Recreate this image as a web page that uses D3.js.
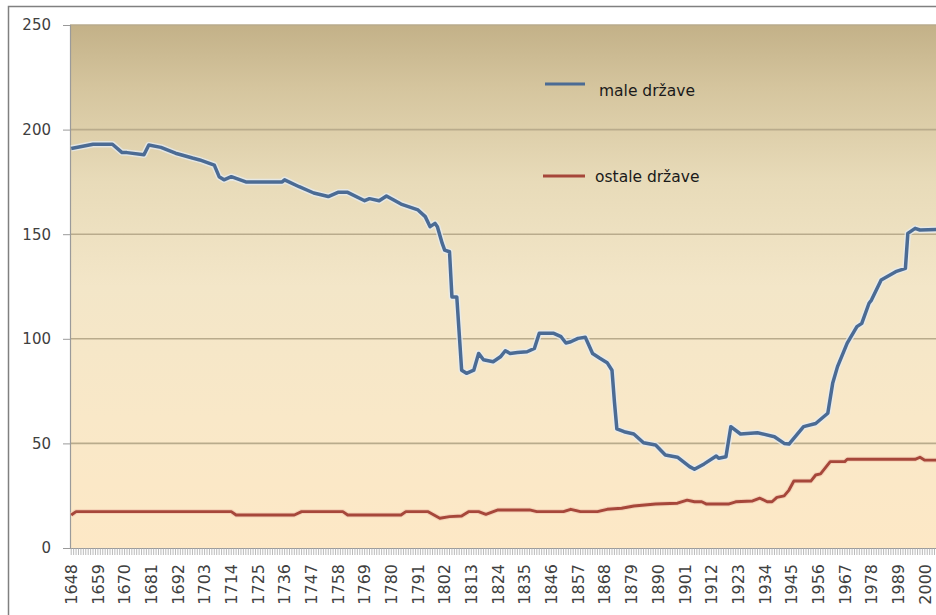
<!DOCTYPE html>
<html>
<head>
<meta charset="utf-8">
<script src="https://cdn.jsdelivr.net/npm/d3@7"></script>
<style>
  html, body { margin: 0; padding: 0; background: #ffffff; }
  svg { display: block; }
</style>
</head>
<body>
<svg id="chart" width="936" height="615"></svg>
<script>
// ---- data (values at change points) ----
const firstYear = 1648;
const lastYear = 2007;
const xLabelYears = [1648,1659,1670,1681,1692,1703,1714,1725,1736,1747,1758,1769,1780,1791,1802,1813,1824,1835,1846,1857,1868,1879,1890,1901,1912,1923,1934,1945,1956,1967,1978,1989,2000];
const yTicks = [0, 50, 100, 150, 200, 250];

const maleLabel = "male države";
const maleYears  = [1648,1657,1665,1669,1671,1678,1680,1685,1691,1698,1701,1707,1709,1711,1714,1720,1735,1736,1742,1748,1754,1758,1762,1769,1771,1775,1778,1784,1791,1794,1796,1798,1799,1801,1802,1804,1805,1807,1809,1811,1814,1816,1818,1822,1825,1827,1829,1832,1836,1839,1841,1847,1850,1852,1854,1857,1860,1863,1866,1869,1871,1872,1873,1876,1880,1884,1889,1893,1898,1903,1905,1909,1914,1915,1918,1920,1924,1931,1938,1942,1944,1950,1955,1960,1962,1964,1968,1972,1974,1977,1978,1982,1988,1992,1993,1996,1998,2007];
const maleValues = [191, 193, 193, 189, 189, 188, 192.6,191.5,188.7,186.4,185.5,183, 177.5,176, 177.5,175, 175, 176, 172.7,169.7,168, 170, 170, 166, 167, 166, 168.3,164.4,161.6,158.4,153.6,155.2,153.6,145.6,142.4,141.6,120, 120, 85, 83.5,85, 93, 90, 89, 91.4,94.3,93, 93.4,93.8,95.4,102.6,102.6,101, 98, 98.6,100.2,100.7,93, 90.7,88.6,85, 70, 57, 55.6,54.5,50.3,49.2,44.5,43.4,38.9,37.6,40.2,44, 42.9,43.6,58, 54.5,55.1,53.2,50, 49.7,58, 59.5,64.4,78.7,86.7,97.9,105.8,107.4,117, 118.5,128.1,132.1,133.7,150.4,152.8,152, 152.3];

const ostaleLabel = "ostale države";
const ostaleYears  = [1648,1650,1714,1716,1740,1743,1760,1762,1784,1786,1795,1800,1804,1809,1812,1816,1819,1824,1837,1840,1851,1854,1858,1865,1869,1875,1880,1889,1898,1902,1905,1908,1910,1919,1922,1929,1932,1935,1937,1939,1942,1944,1946,1953,1955,1957,1961,1967,1968,1996,1998,2000,2007];
const ostaleValues = [15.8,17.4,17.4,15.8,15.8,17.4,17.4,15.8,15.8,17.4,17.4,14.2,15, 15.3,17.4,17.4,16.1,18.2,18.2,17.4,17.4,18.5,17.4,17.4,18.5,19, 20.1,21, 21.4,22.9,22.1,22.1,21, 21, 22.1,22.5,23.8,22.1,22.1,24.2,24.9,27.7,32, 32, 34.9,35.4,41.3,41.3,42.4,42.4,43.4,42, 42];

// ---- layout ----
const svg = d3.select("#chart");
const W = 936, H = 615;
const plot = { left: 70, top: 25, bottom: 548 };
const step = 2.425;
const categories = d3.range(firstYear, lastYear + 1);

const x = d3.scaleBand()
  .domain(categories)
  .range([plot.left, plot.left + categories.length * step])
  .paddingInner(0).paddingOuter(0);
const cx = yr => x(yr) + x.bandwidth() / 2;

const y = d3.scaleLinear().domain([0, 250]).range([plot.bottom, plot.top]);

// outer frame
svg.append("rect")
  .attr("x", 8.5).attr("y", 6.5)
  .attr("width", W + 20).attr("height", H + 20)
  .attr("fill", "#ffffff")
  .attr("stroke", "#808080").attr("stroke-width", 1.5);

// plot background gradient
const defs = svg.append("defs");
const grad = defs.append("linearGradient")
  .attr("id", "bg").attr("x1", 0).attr("y1", 0).attr("x2", 0).attr("y2", 1);
[[0, "#c3b188"], [0.12, "#d5c59e"], [0.3, "#e8dbb9"], [0.5, "#f3e6c8"], [0.75, "#f9e8c8"], [1, "#fde8c6"]]
  .forEach(([o, c]) => grad.append("stop").attr("offset", o).attr("stop-color", c));

svg.append("rect")
  .attr("x", plot.left).attr("y", plot.top)
  .attr("width", W - plot.left + 20).attr("height", plot.bottom - plot.top)
  .attr("fill", "url(#bg)");

// gridlines
svg.append("g")
  .selectAll("line")
  .data(yTicks.filter(d => d > 0))
  .join("line")
  .attr("x1", plot.left).attr("x2", W + 20)
  .attr("y1", d => y(d)).attr("y2", d => y(d))
  .attr("stroke", "#b9ab8c").attr("stroke-width", 1.6);

// y axis
const yAxis = d3.axisLeft(y).tickValues(yTicks).tickSize(7).tickPadding(12).tickFormat(d3.format("d"));
const gy = svg.append("g").attr("transform", `translate(${plot.left},0)`).call(yAxis);
gy.select(".domain").attr("stroke", "#9a9a9a").attr("stroke-width", 1.2);
gy.selectAll(".tick line").attr("stroke", "#9a9a9a");
gy.selectAll(".tick text")
  .attr("fill", "#404040")
  .style("font-family", "'DejaVu Sans', Verdana, sans-serif")
  .style("font-size", "15px");

// x axis: a tick for every year, labels every 11 years
const xAxis = d3.axisBottom(x).tickSize(7).tickSizeOuter(0)
  .tickFormat(d => xLabelYears.includes(d) ? String(d) : "");
const gx = svg.append("g").attr("transform", `translate(0,${plot.bottom})`).call(xAxis);
gx.select(".domain").attr("stroke", "#9a9a9a").attr("stroke-width", 1.2);
gx.selectAll(".tick line").attr("stroke", "#a8a8a8").attr("stroke-width", 0.8);
gx.selectAll(".tick text")
  .attr("fill", "#404040")
  .style("font-family", "'DejaVu Sans', Verdana, sans-serif")
  .style("font-size", "16px")
  .attr("text-anchor", "end")
  .attr("y", 0).attr("dy", "0.33em")
  .attr("transform", "translate(0.5,16) rotate(-90)");

// lines
const line = d3.line().x(d => cx(d[0])).y(d => y(d[1]));
const maleData = maleYears.map((yr, i) => [yr, maleValues[i]]);
const ostaleData = ostaleYears.map((yr, i) => [yr, ostaleValues[i]]);

svg.append("path").datum(ostaleData).attr("d", line)
  .attr("fill", "none").attr("stroke", "#f2c9b0").attr("stroke-width", 5)
  .attr("stroke-linejoin", "round").attr("opacity", 0.7);
svg.append("path").datum(ostaleData).attr("d", line)
  .attr("fill", "none").attr("stroke", "#a6473a").attr("stroke-width", 2.9)
  .attr("stroke-linejoin", "round");

svg.append("path").datum(maleData).attr("d", line)
  .attr("fill", "none").attr("stroke", "#e4ecf4").attr("stroke-width", 6.5)
  .attr("stroke-linejoin", "round").attr("opacity", 0.75);
svg.append("path").datum(maleData).attr("d", line)
  .attr("fill", "none").attr("stroke", "#4b6b94").attr("stroke-width", 3.5)
  .attr("stroke-linejoin", "round");

// legend
const legend = [
  { label: maleLabel, color: "#4b6b94", x1: 545, x2: 585, ly: 84, tx: 599, ty: 96 },
  { label: ostaleLabel, color: "#a6473a", x1: 543, x2: 585, ly: 176, tx: 595, ty: 182 }
];
const lg = svg.append("g");
lg.selectAll("line").data(legend).join("line")
  .attr("x1", d => d.x1).attr("x2", d => d.x2)
  .attr("y1", d => d.ly).attr("y2", d => d.ly)
  .attr("stroke", d => d.color).attr("stroke-width", 3);
lg.selectAll("text").data(legend).join("text")
  .attr("x", d => d.tx).attr("y", d => d.ty)
  .attr("fill", "#1a1a1a")
  .style("font-family", "'DejaVu Sans', Verdana, sans-serif")
  .style("font-size", "15.5px")
  .text(d => d.label);
</script>
</body>
</html>
